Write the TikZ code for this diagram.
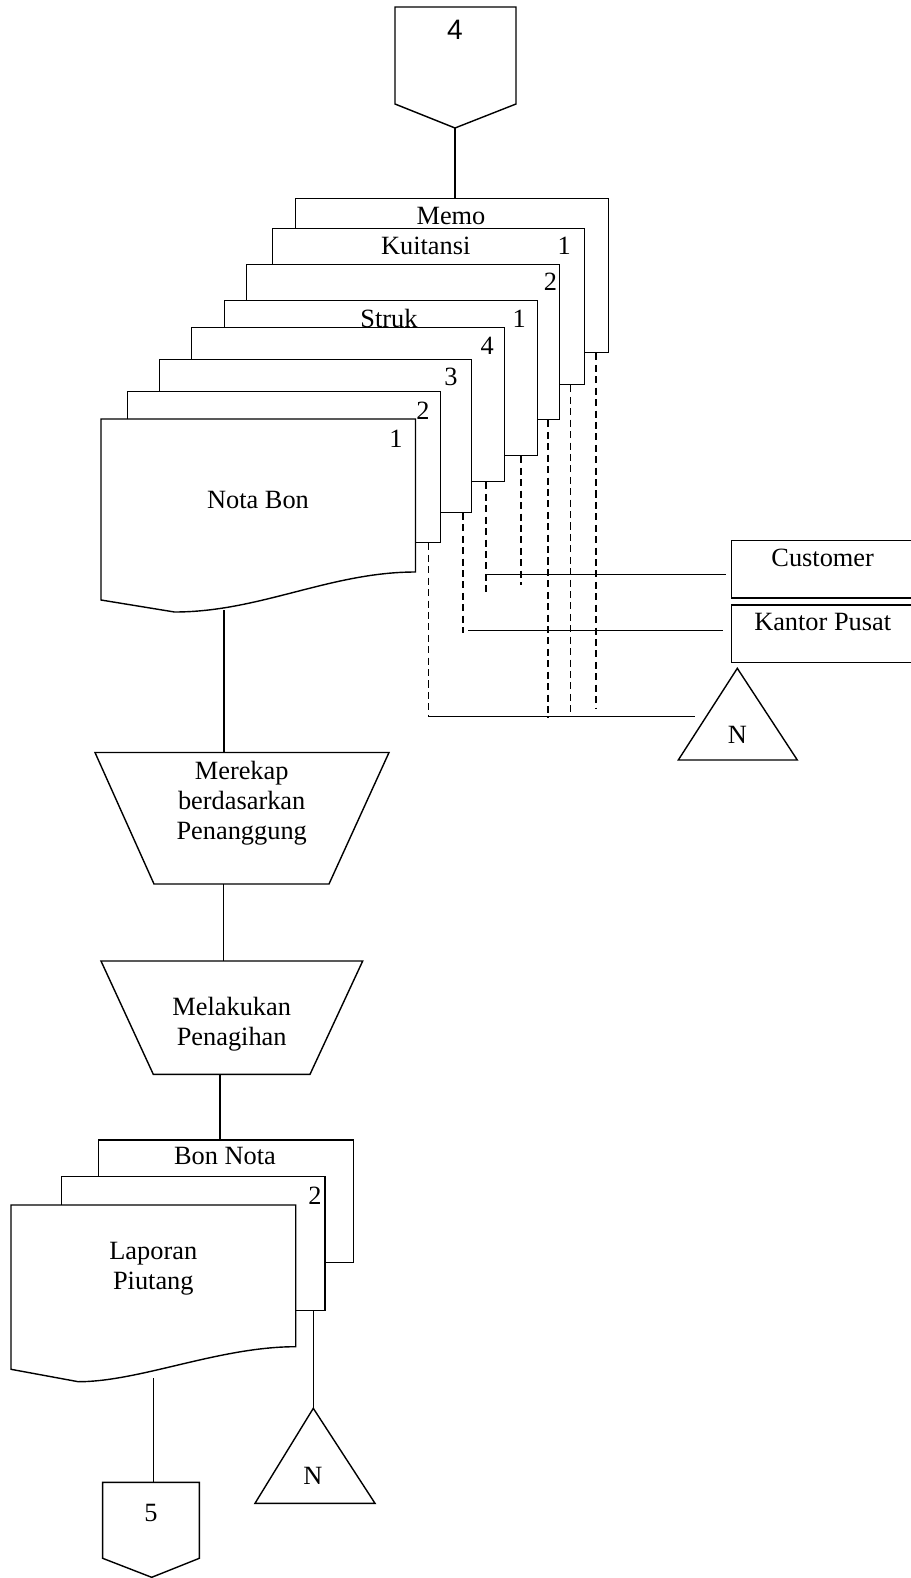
\documentclass[tikz,border=0pt]{standalone}
\usepackage{fontspec}
\setmainfont{Liberation Serif}
\newfontfamily\arialfont{Liberation Sans}

\tikzset{
  lbl/.style={inner sep=0pt, align=center, font=\fontsize{15}{17}\selectfont},
  sheet/.style={draw, fill=white, inner sep=0pt, anchor=north west, minimum width=62.5mm},
  dest/.style={draw, fill=white, inner sep=0pt, anchor=north west, minimum width=36.8mm, minimum height=11.46mm},
  dashln/.style={dash pattern=on 4pt off 2.5pt},
}

\begin{document}
\begin{tikzpicture}[x=0.2mm, y=-0.2mm, line width=0.8pt]
\useasboundingbox (0,0) rectangle (910,1578);

% off page connector 4
\draw (395,7) -- (516,7) -- (516,104) -- (455,128) -- (395,104) -- cycle;
\coordinate (c4) at (455,128);
\node[lbl, font=\arialfont\fontsize{16}{18}\selectfont] (n4) at (455,30) {4};

% stacked documents
\node[sheet, minimum height=30.9mm] (memo) at (295,197.5) {};
\node[lbl] (memot) at (451,215.5) {Memo};
\node[sheet, minimum height=31.2mm] (kuit) at (271.5,228) {};
\node[lbl] (kuitt) at (425.7,246) {Kuitansi};
\node[lbl] (kuitn) at (564.3,246) {1};
\node[sheet, minimum height=31mm] (kuitb) at (246,264) {};
\node[lbl] (kuitbn) at (550.4,281.4) {2};
\node[sheet, minimum height=31mm] (struk) at (224,300) {};
\node[lbl] (strukt) at (389,318.6) {Struk};
\node[lbl] (strukn) at (519.3,318.6) {1};
\node[sheet, minimum height=30.8mm] (nb4) at (191,327) {};
\node[lbl] (nb4n) at (487.2,345.7) {4};
\node[sheet, minimum height=30.6mm] (nb3) at (158.5,358.5) {};
\node[lbl] (nb3n) at (451,376.8) {3};
\node[sheet, minimum height=30.2mm] (nb2) at (127,391) {};
\node[lbl] (nb2n) at (423,410.9) {2};
\draw[fill=white] (101,419) -- (415.5,419) -- (415.5,572)
  .. controls (330,572) and (260,612) .. (174.5,612) -- (101,600) -- cycle;
\node[lbl] (nb1n) at (396,438.6) {1};
\node[lbl] (nota) at (258,499.5) {Nota Bon};
\coordinate (notaout) at (224,610);

\draw (c4) -- (memo.north -| c4);

% distribution
\node[dest] (cust) at (731,540) {};
\node[lbl] (custt) at (822.7,557.5) {Customer};
\node[dest] (kp) at (731,604.3) {};
\node[lbl] (kpt) at (822.7,621.7) {Kantor Pusat};
\draw (737.3,668.3) -- (797.3,760) -- (678.3,760) -- cycle;
\node[lbl] (arsip1) at (737.5,735) {N};

\coordinate (e1) at (596,708);
\coordinate (e2) at (570.5,712);
\coordinate (e3) at (548,718);
\coordinate (e4) at (521,585);
\coordinate (e5) at (486,593);
\coordinate (e6) at (463,633);
\coordinate (e7) at (428.5,716.7);
\draw[dashln] (memo.south -| e1) -- (e1);
\draw[dashln] (kuit.south -| e2) -- (e2);
\draw[dashln] (kuitb.south -| e3) -- (e3);
\draw[dashln] (struk.south -| e4) -- (e4);
\draw[dashln] (nb4.south -| e5) -- (e5);
\draw[dashln] (nb3.south -| e6) -- (e6);
\draw[dashln] (nb2.south -| e7) -- (e7);

\coordinate (custin) at (726,574.3);
\coordinate (kpin) at (723,630.7);
\coordinate (arsipin) at (695,716.7);
\draw (e5 |- custin) -- (custin);
\draw (468,630.7) -- (kpin);
\draw (e7) -- (arsipin);

% processes
\draw (95,752.5) -- (389,752.5) -- (329,884) -- (154,884) -- cycle;
\node[lbl] (rekap) at (241.7,803) {Merekap\\berdasarkan\\Penanggung};
\coordinate (rekapin) at (224,752.5);
\coordinate (rekapout) at (223.5,884);
\draw (notaout) -- (rekapin);

\draw (101,961) -- (362.7,961) -- (310,1074.3) -- (153.3,1074.3) -- cycle;
\node[lbl] (tagih) at (231.7,1024) {Melakukan\\Penagihan};
\coordinate (tagihin) at (223.5,961);
\coordinate (tagihout) at (220,1074.3);
\draw (rekapout) -- (tagihin);

% output documents
\node[sheet, minimum width=51mm, minimum height=24.48mm] (bon) at (97.7,1139.3) {};
\node[lbl] (bont) at (225,1156) {Bon Nota};
\node[sheet, minimum width=52.72mm, minimum height=26.86mm] (lap2) at (60.7,1175.7) {};
\node[lbl] (lap2n) at (315,1196) {2};
\draw[fill=white] (11,1205) -- (295.7,1205) -- (295.7,1346.7)
  .. controls (219,1346.7) and (140,1381.7) .. (78.3,1381.7) -- (11,1369.3) -- cycle;
\node[lbl] (lap) at (153.3,1268.3) {Laporan\\Piutang};
\coordinate (lapout) at (153.3,1378);
\draw (tagihout) -- (bon.north -| tagihout);

% off page connector 5
\draw (102.7,1482.3) -- (199.3,1482.3) -- (199.3,1558.3) -- (151.7,1577.3) -- (102.7,1558.3) -- cycle;
\coordinate (c5) at (153.3,1482.3);
\node[lbl] (n5) at (151,1513.3) {5};
\draw (lapout) -- (c5);

% arsip
\draw (313.3,1408.3) -- (375,1503.3) -- (255,1503.3) -- cycle;
\coordinate (arsip2in) at (313.3,1408.3);
\node[lbl] (arsip2) at (313,1476) {N};
\draw (lap2.south -| arsip2in) -- (arsip2in);
\end{tikzpicture}
\end{document}
